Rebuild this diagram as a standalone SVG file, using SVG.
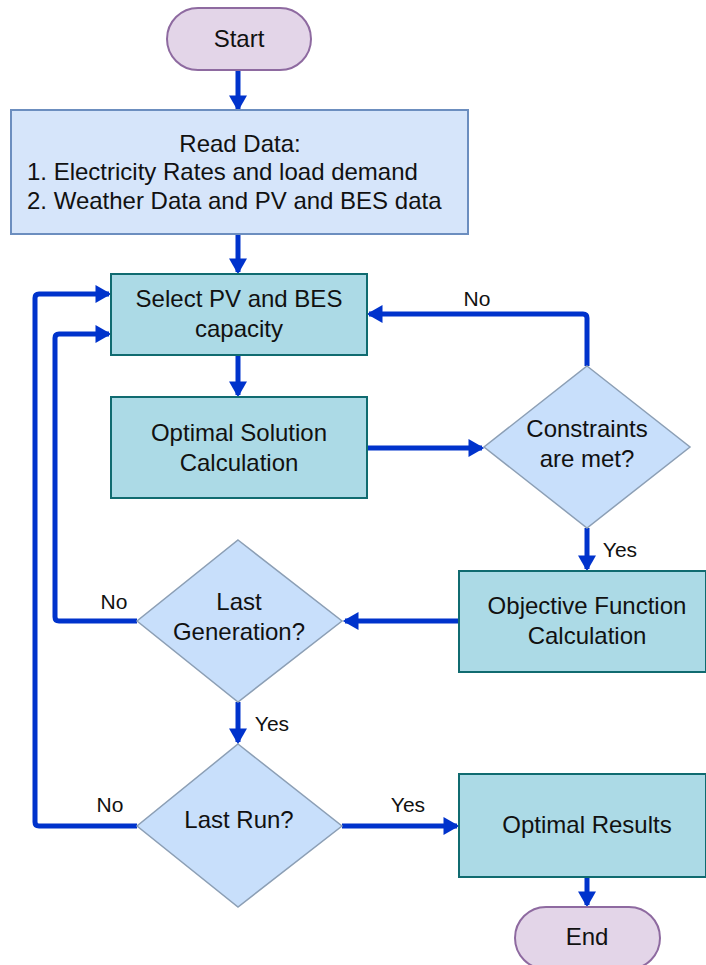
<svg xmlns="http://www.w3.org/2000/svg" width="706" height="965" viewBox="0 0 706 965">
<style>
text{font-family:"Liberation Sans",Arial,sans-serif;font-size:24px;fill:#111;text-anchor:middle}
.term{fill:#E3D5E8;stroke:#8E6AA0;stroke-width:2}
.data{fill:#D6E5FA;stroke:#6C8EBF;stroke-width:2}
.proc{fill:#ACDAE6;stroke:#106B70;stroke-width:2}
.dec{fill:#C8DFFB;stroke:#8C9FB5;stroke-width:1.5}
.c{fill:none;stroke:#0033CC;stroke-width:5;stroke-linejoin:round}
.lbl{font-size:21px}
.l{text-anchor:start}
</style>
<defs>
<marker id="ah" markerUnits="userSpaceOnUse" markerWidth="18" markerHeight="18" viewBox="0 0 14 16" refX="12" refY="8" orient="auto">
<path d="M0,0 L14,8 L0,16 Z" fill="#0033CC"/>
</marker>
</defs>
<g id="connectors">
<path class="c" d="M238,70 V109" marker-end="url(#ah)"/>
<path class="c" d="M238,234 V272" marker-end="url(#ah)"/>
<path class="c" d="M238,355 V395" marker-end="url(#ah)"/>
<path class="c" d="M367,448 H482" marker-end="url(#ah)"/>
<path class="c" d="M587,366 V318 Q587,314 583,314 H369" marker-end="url(#ah)"/>
<path class="c" d="M587,528 V569" marker-end="url(#ah)"/>
<path class="c" d="M459,621 H345" marker-end="url(#ah)"/>
<path class="c" d="M137,621 H59 Q55,621 55,617 V338 Q55,334 59,334 H109" marker-end="url(#ah)"/>
<path class="c" d="M238,702 V742" marker-end="url(#ah)"/>
<path class="c" d="M137,826 H39 Q35,826 35,822 V298 Q35,294 39,294 H109" marker-end="url(#ah)"/>
<path class="c" d="M342,826 H457" marker-end="url(#ah)"/>
<path class="c" d="M587,877 V905" marker-end="url(#ah)"/>
<text class="lbl" x="477" y="306">No</text>
<text class="lbl" x="620" y="557">Yes</text>
<text class="lbl" x="114" y="609">No</text>
<text class="lbl" x="272" y="731">Yes</text>
<text class="lbl" x="110" y="812">No</text>
<text class="lbl" x="408" y="812">Yes</text>
</g>
<g id="start">
<rect class="term" x="167" y="8" width="144" height="62" rx="31"/>
<text x="239" y="47">Start</text>
</g>
<g id="read-data">
<rect class="data" x="11" y="110" width="457" height="124"/>
<text x="240" y="152">Read Data:</text>
<text class="l" x="27" y="180">1. Electricity Rates and load demand</text>
<text class="l" x="27" y="209">2. Weather Data and PV and BES data</text>
</g>
<g id="select">
<rect class="proc" x="111" y="274" width="256" height="81"/>
<text x="239" y="307">Select PV and BES</text>
<text x="239" y="337">capacity</text>
</g>
<g id="optimal-solution">
<rect class="proc" x="111" y="397" width="256" height="101"/>
<text x="239" y="441">Optimal Solution</text>
<text x="239" y="471">Calculation</text>
</g>
<g id="constraints">
<polygon class="dec" points="587,366 690,447 587,528 484,447"/>
<text x="587" y="437">Constraints</text>
<text x="587" y="467">are met?</text>
</g>
<g id="objective">
<rect class="proc" x="459" y="571" width="247" height="101"/>
<text x="587" y="614">Objective Function</text>
<text x="587" y="644">Calculation</text>
</g>
<g id="last-generation">
<polygon class="dec" points="238,540 342,621 238,702 137,621"/>
<text x="239" y="610">Last</text>
<text x="239" y="640">Generation?</text>
</g>
<g id="last-run">
<polygon class="dec" points="238,744 342,826 238,907 137,826"/>
<text x="239" y="828">Last Run?</text>
</g>
<g id="optimal-results">
<rect class="proc" x="459" y="774" width="247" height="103"/>
<text x="587" y="833">Optimal Results</text>
</g>
<g id="end">
<rect class="term" x="515" y="907" width="145" height="62" rx="31"/>
<text x="587" y="945">End</text>
</g>
</svg>
